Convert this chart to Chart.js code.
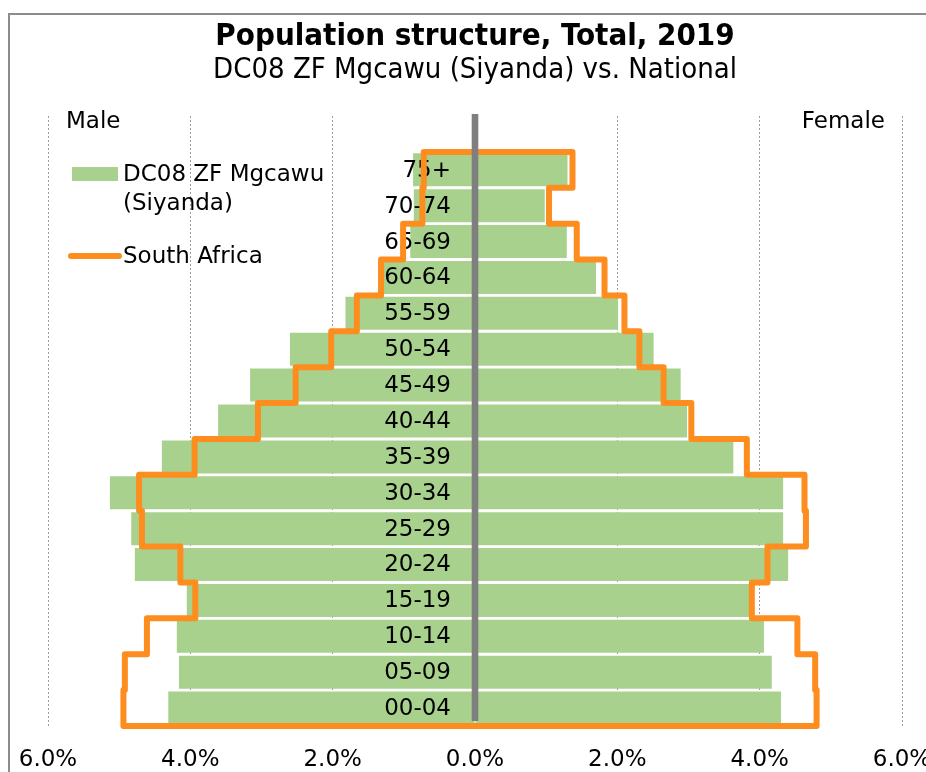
<!DOCTYPE html>
<html><head><meta charset="utf-8">
<script src="https://cdn.jsdelivr.net/npm/chart.js@4/dist/chart.umd.min.js"></script>
<style>html,body{margin:0;padding:0;background:#fff}#wrap{position:relative;width:926px;height:772px}</style>
</head><body><div id="wrap"><canvas id="c"></canvas></div>
<script>
const titleText = 'Population structure, Total, 2019';
const subtitleText = 'DC08 ZF Mgcawu (Siyanda) vs. National';
const regionName = 'DC08 ZF Mgcawu (Siyanda)';
const nationalName = 'South Africa';
const sideLabels = ['Male', 'Female'];
const ageGroups = ['75+','70-74','65-69','60-64','55-59','50-54','45-49','40-44','35-39','30-34','25-29','20-24','15-19','10-14','05-09','00-04'];
const maleRegion     = [0.87, 0.86, 0.91, 1.29, 1.82, 2.60, 3.16, 3.61, 4.40, 5.13, 4.83, 4.78, 4.05, 4.19, 4.16, 4.31];
const femaleRegion   = [1.30, 0.98, 1.29, 1.70, 2.01, 2.51, 2.89, 2.98, 3.63, 4.33, 4.33, 4.40, 3.87, 4.06, 4.17, 4.30];
const maleNational   = [0.72, 0.74, 1.01, 1.32, 1.66, 2.02, 2.52, 3.05, 3.94, 4.72, 4.68, 4.14, 3.93, 4.61, 4.92, 4.94];
const femaleNational = [1.37, 1.04, 1.43, 1.82, 2.10, 2.31, 2.65, 3.04, 3.82, 4.63, 4.65, 4.11, 3.89, 4.53, 4.78, 4.80];
const xMin = -6, xMax = 6, xStep = 2;

const GREEN = '#A9D18E', ORANGE = '#FD8D1E', AXISGRAY = '#7f7f7f';
const FONT = '"DejaVu Sans", Verdana, sans-serif';
const TFONT = '"DejaVu Sans Condensed", "DejaVu Sans", sans-serif';

const categories = [''].concat(ageGroups);

// outline of national pyramid built from the value arrays (category index boundaries)
const outline = [];
ageGroups.forEach((g, k) => {
  outline.push({x: -maleNational[k], y: k + 0.5}, {x: -maleNational[k], y: k + 1.5});
});
for (let k = ageGroups.length - 1; k >= 0; k--) {
  outline.push({x: femaleNational[k], y: k + 1.5}, {x: femaleNational[k], y: k + 0.5});
}
outline.push({x: -maleNational[0], y: 0.5});

const decor = {
  id: 'decor',
  beforeDraw(chart) {
    const ctx = chart.ctx;
    ctx.save();
    ctx.strokeStyle = '#8c8c8c';
    ctx.lineWidth = 2;
    ctx.beginPath();
    ctx.moveTo(9, 800); ctx.lineTo(9, 14); ctx.lineTo(940, 14);
    ctx.stroke();
    ctx.restore();
  },
  beforeDatasetDraw(chart, args) {
    if (args.index !== 2) return;
    const ctx = chart.ctx, y = chart.scales.y, x = chart.scales.x;
    const x0 = x.getPixelForValue(0);
    ctx.save();
    ctx.font = '23px ' + FONT;
    ctx.fillStyle = '#000';
    ctx.textAlign = 'right';
    ctx.textBaseline = 'middle';
    categories.forEach((lab, i) => {
      if (!lab) return;
      ctx.fillText(lab, x0 - 24, y.getPixelForTick(i) + 1);
    });
    ctx.restore();
  },
  afterDatasetsDraw(chart) {
    const ctx = chart.ctx, a = chart.chartArea, x = chart.scales.x;
    const x0 = x.getPixelForValue(0);
    ctx.save();
    ctx.fillStyle = AXISGRAY;
    ctx.fillRect(x0 - 3.3, a.top - 2, 6.6, a.bottom - a.top - 3);
    ctx.restore();
  },
  afterDraw(chart) {
    const ctx = chart.ctx, a = chart.chartArea;
    ctx.save();
    ctx.font = '23px ' + FONT;
    ctx.fillStyle = '#000';
    ctx.textBaseline = 'middle';
    ctx.textAlign = 'left';
    ctx.fillText(sideLabels[0], 66, a.top + 6);
    ctx.textAlign = 'right';
    ctx.fillText(sideLabels[1], 885, a.top + 6);
    // legend
    const ds = chart.data.datasets;
    const regionLines = ds[0].label.replace(' (', '\n(').split('\n');
    ctx.textAlign = 'left';
    ctx.fillStyle = GREEN;
    ctx.fillRect(72, 167, 46, 14);
    ctx.fillStyle = '#000';
    regionLines.forEach((t, i) => ctx.fillText(t, 123, 175 + i * 29));
    ctx.strokeStyle = ORANGE;
    ctx.lineWidth = 6;
    ctx.lineCap = 'round';
    ctx.beginPath(); ctx.moveTo(71, 256); ctx.lineTo(119, 256); ctx.stroke();
    ctx.fillText(ds[2].label, 123, 257);
    ctx.restore();
  }
};

new Chart(document.getElementById('c'), {
  type: 'bar',
  data: {
    labels: categories,
    datasets: [
      { label: regionName, data: [null].concat(maleRegion.map(v => -v)), backgroundColor: GREEN,
        barPercentage: 0.92, categoryPercentage: 1, borderWidth: 0, grouped: false, order: 0 },
      { label: regionName, data: [null].concat(femaleRegion), backgroundColor: GREEN,
        barPercentage: 0.92, categoryPercentage: 1, borderWidth: 0, grouped: false, order: 0 },
      { type: 'line', label: nationalName, data: outline, xAxisID: 'x', yAxisID: 'yl', indexAxis: 'y',
        borderColor: ORANGE, borderWidth: 6, pointRadius: 0, tension: 0, fill: false,
        borderJoinStyle: 'round', borderCapStyle: 'round', clip: false, order: -1 }
    ]
  },
  options: {
    indexAxis: 'y',
    responsive: true,
    maintainAspectRatio: false,
    animation: false,
    events: [],
    layout: { padding: { left: 48, right: 24, top: 0, bottom: 0 } },
    scales: {
      x: {
        type: 'linear', min: xMin, max: xMax, stacked: true,
        ticks: { stepSize: xStep, autoSkip: false, maxRotation: 0, padding: 20, color: '#000',
                 font: { family: FONT, size: 23, lineHeight: 1.2 },
                 callback: v => Math.abs(v).toFixed(1) + '%' },
        grid: { drawTicks: false, lineWidth: 1,
                color: c => (c.tick && c.tick.value === 0) ? 'rgba(0,0,0,0)' : '#9c9c9c' },
        border: { display: false, dash: [2, 2] },
        afterFit: s => { s.paddingLeft = 0; s.paddingRight = 0; s.height = 46; }
      },
      y: { type: 'category', stacked: true, display: false, offset: true, grid: { display: false } },
      yl: { type: 'linear', display: false, offset: false, min: -0.5, max: categories.length - 0.5, reverse: true,
            grid: { offset: false } }
    },
    plugins: {
      legend: { display: false },
      tooltip: { enabled: false },
      title: { display: true, text: titleText, fullSize: false, color: '#000',
               font: { family: TFONT, size: 31, weight: 'bold', lineHeight: 1.1 },
               padding: { top: 20, bottom: 0 } },
      subtitle: { display: true, text: subtitleText, fullSize: false, color: '#000',
               font: { family: TFONT, size: 29, weight: 'normal', lineHeight: 1.1 },
               padding: { top: 0, bottom: 30 } }
    }
  },
  plugins: [decor]
});
</script></body></html>
